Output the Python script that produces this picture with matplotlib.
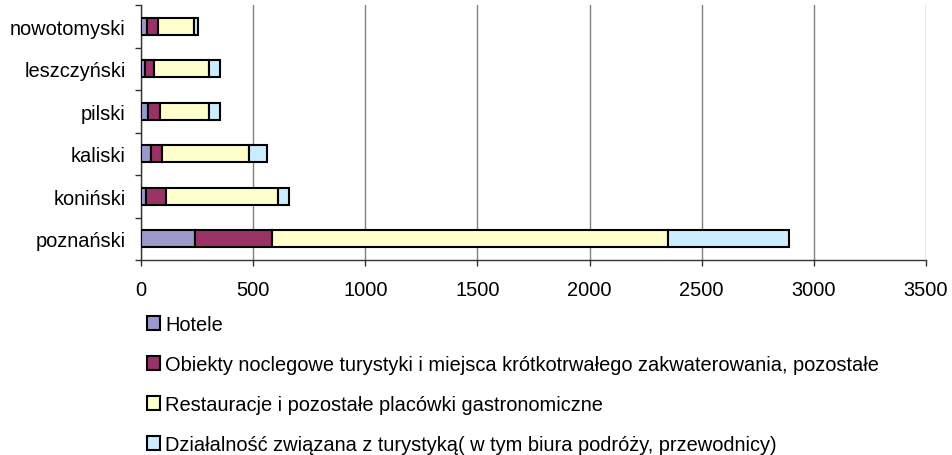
import matplotlib.pyplot as plt
import numpy as np

plt.rcParams['font.family'] = ['Liberation Sans', 'DejaVu Sans']

powiaty = ['poznański', 'koniński', 'kaliski', 'pilski', 'leszczyński', 'nowotomyski']
hotele = [241, 24, 43, 30, 19, 25]
obiekty = [344, 86, 49, 53, 39, 51]
restauracje = [1764, 503, 391, 222, 243, 160]
dzialalnosc = [541, 49, 81, 46, 50, 16]

serie = [
    ('Hotele', hotele, '#9999CC'),
    ('Obiekty noclegowe turystyki i miejsca krótkotrwałego zakwaterowania, pozostałe', obiekty, '#993366'),
    ('Restauracje i pozostałe placówki gastronomiczne', restauracje, '#FFFFCC'),
    ('Działalność związana z turystyką( w tym biura podróży, przewodnicy)', dzialalnosc, '#CCECFF'),
]

fig = plt.figure(figsize=(9.53, 4.56), dpi=100)
ax = fig.add_axes([141 / 953, 1 - 261 / 456, (926 - 141) / 953, 255 / 456])

y = np.arange(len(powiaty))
left = np.zeros(len(powiaty))
handles = []
for name, vals, col in serie:
    b = ax.barh(y, vals, left=left, height=0.4, color=col,
                edgecolor='black', linewidth=1.5, label=name, zorder=3)
    left += np.array(vals)
    handles.append(b)

ax.set_xlim(0, 3500)
ax.set_ylim(-0.5, len(powiaty) - 0.5)
ax.set_xticks(np.arange(0, 3501, 500))
ax.set_yticks(y)
ax.set_yticklabels(powiaty)
ax.set_yticks(np.arange(-0.5, len(powiaty), 1), minor=True)
ax.tick_params(axis='y', which='major', length=0, labelsize=14.4, pad=11)
ax.tick_params(axis='y', which='minor', length=4.5, width=1, color='#333333')
ax.tick_params(axis='x', length=4.5, width=1, color='#333333', labelsize=14.4, pad=10)
ax.grid(axis='x', color='#808080', linewidth=1, zorder=0)

for s in ['top', 'right']:
    ax.spines[s].set_visible(False)
ax.spines['left'].set_linewidth(1)
ax.spines['bottom'].set_linewidth(1)
ax.spines['left'].set_color('#333333')
ax.spines['bottom'].set_color('#333333')

fig.legend(handles=handles, loc='upper left', bbox_to_anchor=(147 / 953, 1 - 316 / 456),
           frameon=False, fontsize=14.4, labelspacing=1.05, handlelength=0.65,
           handleheight=0.65, handletextpad=0.25, borderaxespad=0, borderpad=0)

fig.savefig('out.png', dpi=100)
